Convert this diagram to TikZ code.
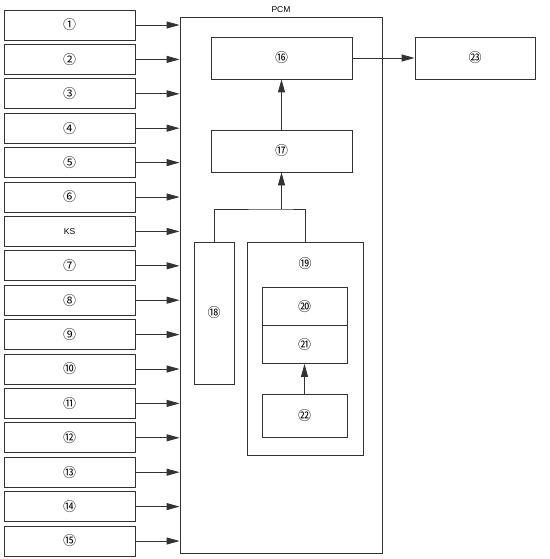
\documentclass[tikz,border=0pt]{standalone}
\usepackage{fontspec}
\setmainfont{Liberation Sans}
\newfontfamily\cjk{Noto Sans CJK SC}
\newcommand\cnum[1]{{\cjk\fontsize{13}{13}\selectfont #1}}
\usetikzlibrary{arrows.meta}

\tikzset{
  blk/.style={draw=black!80,line width=0.9pt,inner sep=0pt},
  arr/.style={draw=black!80,line width=0.9pt,-{Triangle[length=13pt,width=7pt]}},
  lnk/.style={draw=black!80,line width=0.9pt}
}

\begin{document}
\begin{tikzpicture}[x=1pt,y=-1pt,font=\fontsize{8.5}{10}\selectfont]
    \useasboundingbox (0,0) rectangle (549,559);

    % PCM frame
    \node[blk,minimum width=202,minimum height=536,label={[font=\fontsize{8.5}{10}\selectfont]above:PCM}] (pcm) at (281,285) {};

    % Input boxes (left)
    \foreach \i/\t in {0/\cnum{①},1/\cnum{②},2/\cnum{③},3/\cnum{④},4/\cnum{⑤},5/\cnum{⑥},6/KS,7/\cnum{⑦},8/\cnum{⑧},9/\cnum{⑨},10/\cnum{⑩},11/\cnum{⑪},12/\cnum{⑫},13/\cnum{⑬},14/\cnum{⑭},15/\cnum{⑮}} {
      \node[blk,minimum width=131,minimum height=30] (in\i) at (69.5,25+\i*34.4) {\t};
      \draw[arr] (in\i.east) -- (pcm.west |- in\i.east);
    }

    % Inside PCM
    \node[blk,minimum width=141,minimum height=42] (b16) at (281.5,58) {\cnum{⑯}};
    \node[blk,minimum width=141,minimum height=42] (b17) at (281.5,151) {\cnum{⑰}};
    \node[blk,minimum width=40,minimum height=142] (b18) at (214,313) {\cnum{⑱}};
    \node[blk,minimum width=116,minimum height=213] (b19) at (305,348.5) {};
    \node (t19) at (305,264) {\cnum{⑲}};
    \node[blk,minimum width=85,minimum height=38] (b20) at (304.5,306.5) {\cnum{⑳}};
    \node[blk,minimum width=85,minimum height=38] (b21) at (304.5,344.5) {\cnum{㉑}};
    \node[blk,minimum width=85,minimum height=43] (b22) at (304.5,415.5) {\cnum{㉒}};

    % Output box
    \node[blk,minimum width=120,minimum height=42] (b23) at (475,58) {\cnum{㉓}};

    % Connectors
    \coordinate (join) at (b17.south |- 0,209);
    \draw[lnk] (b18.north) |- (join) -| (b19.north);
    \draw[arr] (join) -- (b17.south);
    \draw[arr] (b17.north) -- (b16.south);
    \draw[arr] (b16.east) -- (b23.west);
    \draw[arr] (b22.north) -- (b21.south);
  \end{tikzpicture}
\end{document}
